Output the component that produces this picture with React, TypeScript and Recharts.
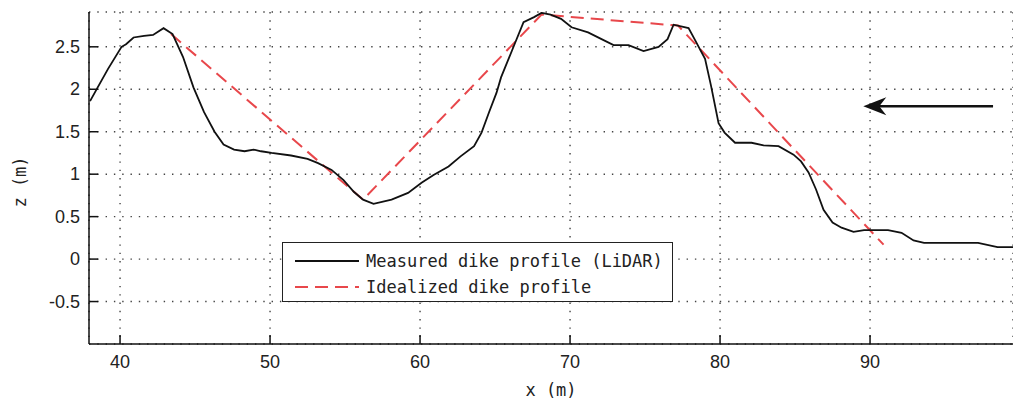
import { LineChart, Line, XAxis, YAxis, CartesianGrid, Legend, ReferenceLine } from 'recharts';

// measured LiDAR profile (x in m, z in m)
const measuredX = [
  38.0, 38.5, 39.2, 40.1, 40.4, 40.9, 41.6, 42.2, 42.9, 43.5,
  44.2, 44.9, 45.6, 46.3, 46.9, 47.6, 48.3, 48.9, 49.4, 50.1,
  51.4, 52.5, 53.2, 54.1, 54.9, 55.6, 56.2, 56.9, 58.1, 59.2,
  60.1, 60.9, 61.9, 62.7, 63.6, 64.1, 64.6, 65.1, 65.4, 66.3,
  66.9, 67.6, 68.1, 68.7, 69.4, 70.1, 71.2, 72.1, 72.9, 73.9,
  74.9, 75.9, 76.5, 76.9, 77.9, 78.3, 79.0, 79.4, 79.9, 80.3,
  81.0, 82.1, 82.9, 83.9, 84.9, 85.4, 85.9, 86.4, 86.9, 87.5,
  88.1, 88.9, 89.6, 91.2, 92.1, 92.9, 93.6, 97.2, 98.5, 99.6,
];
const measuredZ = [
  1.86, 2.02, 2.24, 2.5, 2.53, 2.61, 2.63, 2.64, 2.72, 2.65,
  2.38, 2.02, 1.73, 1.5, 1.35, 1.29, 1.27, 1.29, 1.27, 1.25,
  1.22, 1.18, 1.13, 1.05, 0.93, 0.79, 0.7, 0.65, 0.7, 0.78,
  0.9, 0.99, 1.09, 1.21, 1.33, 1.49, 1.73, 1.96, 2.14, 2.53,
  2.79, 2.85, 2.9, 2.88, 2.83, 2.73, 2.67, 2.59, 2.52, 2.52,
  2.45, 2.5, 2.59, 2.76, 2.72, 2.59, 2.36, 2.04, 1.6, 1.49,
  1.37, 1.37, 1.34, 1.33, 1.23, 1.15, 1.02, 0.82, 0.58, 0.43,
  0.37, 0.32, 0.34, 0.34, 0.31, 0.22, 0.19, 0.19, 0.14, 0.14,
];

// idealized dike profile
const idealX = [43.4, 56.2, 68.1, 77.2, 90.9];
const idealZ = [2.65, 0.7, 2.88, 2.75, 0.17];

const xTicks = [40, 50, 60, 70, 80, 90];
const zTicks = [-0.5, 0, 0.5, 1, 1.5, 2, 2.5];

// wave direction arrow (tail -> tip)
const arrowTail = { x: 98.2, y: 1.8 };
const arrowTip = { x: 89.55, y: 1.8 };

const measured = measuredX.map((x, i) => ({ x, z: measuredZ[i] }));
const ideal = idealX.map((x, i) => ({ x, z: idealZ[i] }));

const RED = '#e8474b';
const tickFont = '"Liberation Sans", Arial, sans-serif';
const monoFont = '"DejaVu Sans Mono", "Liberation Mono", monospace';

const XTick = (props: any) => {
  const { x, y, payload } = props;
  return (
    <g>
      <line x1={x} x2={x} y1={y} y2={y - 9} stroke="#111" strokeWidth={1.5} />
      <text x={x} y={y + 18} textAnchor="middle" dominantBaseline="central" fontFamily={tickFont} fontSize={18} fill="#222">
        {payload.value}
      </text>
    </g>
  );
};

const YTick = (props: any) => {
  const { x, y, payload } = props;
  return (
    <g>
      <line x1={x} x2={x + 9} y1={y} y2={y} stroke="#111" strokeWidth={1.5} />
      <text x={x - 9} y={y} textAnchor="end" dominantBaseline="central" fontFamily={tickFont} fontSize={18} fill="#222">
        {payload.value}
      </text>
    </g>
  );
};

const ArrowShape = (p: any) => {
  const tip = Math.min(p.x1, p.x2);
  const tail = Math.max(p.x1, p.x2);
  const y = p.y1;
  return (
    <g>
      <line x1={tail} x2={tip + 14} y1={y} y2={y} stroke="#111" strokeWidth={2.5} />
      <path d={`M${tip},${y} L${tip + 23},${y - 9} L${tip + 16},${y} L${tip + 23},${y + 9} Z`} fill="#111" />
    </g>
  );
};

const LegendBox = () => (
  <div
    style={{
      boxSizing: 'border-box',
      width: 391,
      height: 60,
      border: '1.5px solid #222',
      background: '#fff',
      fontFamily: monoFont,
      fontSize: 17,
      color: '#222',
      padding: '5px 0 0 12px',
    }}
  >
    <div style={{ display: 'flex', alignItems: 'center', height: 26 }}>
      <svg width={64} height={10} style={{ marginRight: 7 }}>
        <line x1={0} x2={64} y1={5} y2={5} stroke="#111" strokeWidth={1.8} />
      </svg>
      Measured dike profile (LiDAR)
    </div>
    <div style={{ display: 'flex', alignItems: 'center', height: 26 }}>
      <svg width={64} height={10} style={{ marginRight: 7 }}>
        <line x1={0} x2={64} y1={5} y2={5} stroke={RED} strokeWidth={2} strokeDasharray="13 7" />
      </svg>
      Idealized dike profile
    </div>
  </div>
);

export default function App() {
  return (
    <div style={{ position: 'absolute', left: 0, top: 0, background: '#fff' }}>
      <LineChart width={1013} height={404} margin={{ top: 12, right: 0, bottom: 0, left: 0 }}>
        <CartesianGrid stroke="#444" strokeWidth={1.4} strokeDasharray="1.4 6.9" />
        <XAxis
          dataKey="x"
          type="number"
          domain={[37.93, 99.53]}
          allowDataOverflow
          ticks={xTicks}
          height={60}
          tickSize={0}
          tickMargin={0}
          tickLine={false}
          tick={<XTick />}
          stroke="#111"
          strokeWidth={1.5}
          label={{
            value: 'x (m)',
            content: (p: any) => (
              <text
                x={p.viewBox.x + p.viewBox.width / 2}
                y={p.viewBox.y + 46}
                textAnchor="middle"
                dominantBaseline="central"
                fontFamily={monoFont}
                fontSize={17}
                fill="#222"
              >
                x (m)
              </text>
            ),
          }}
        />
        <YAxis
          dataKey="z"
          type="number"
          domain={[-1, 2.91]}
          allowDataOverflow
          ticks={zTicks}
          width={89}
          tickSize={0}
          tickMargin={0}
          tickLine={false}
          tick={<YTick />}
          stroke="#111"
          strokeWidth={1.5}
          label={{
            value: 'z (m)',
            content: (p: any) => {
              const cx = p.viewBox.x + 20;
              const cy = p.viewBox.y + p.viewBox.height / 2 + 4;
              return (
                <text
                  x={cx}
                  y={cy}
                  transform={`rotate(-90 ${cx} ${cy})`}
                  textAnchor="middle"
                  dominantBaseline="central"
                  fontFamily={monoFont}
                  fontSize={17}
                  fill="#222"
                >
                  z (m)
                </text>
              );
            },
          }}
        />
        <Line
          data={ideal}
          dataKey="z"
          type="linear"
          stroke={RED}
          strokeWidth={2}
          strokeDasharray="13 7"
          dot={false}
          isAnimationActive={false}
          name="Idealized dike profile"
        />
        <Line
          data={measured}
          dataKey="z"
          type="linear"
          stroke="#111"
          strokeWidth={1.8}
          dot={false}
          isAnimationActive={false}
          name="Measured dike profile (LiDAR)"
        />
        <ReferenceLine segment={[arrowTail, arrowTip]} shape={<ArrowShape />} />
        <Legend
          layout="horizontal"
          verticalAlign="middle"
          align="center"
          content={<LegendBox />}
          wrapperStyle={{ position: 'absolute', left: 282, top: 242, width: 391, height: 60 }}
        />
      </LineChart>
    </div>
  );
}
